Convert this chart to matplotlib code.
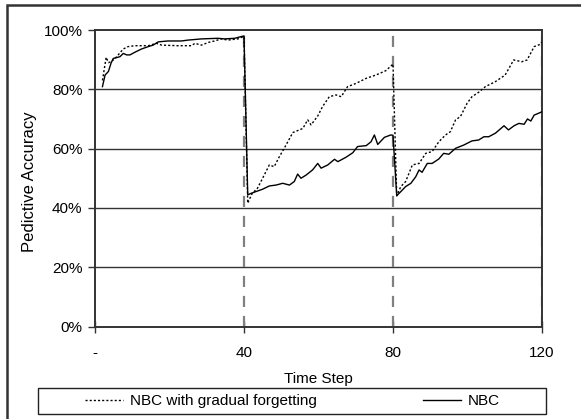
import matplotlib
matplotlib.use("Agg")
import matplotlib.pyplot as plt
from matplotlib.patches import Rectangle
from matplotlib.ticker import FuncFormatter

plt.rcParams['font.family'] = ['Liberation Sans', 'DejaVu Sans']

# NBC (solid line)
nbc_t = [2, 2.7, 3.6, 4.3, 4.9, 5.8, 6.7, 7.6, 8.5, 9.4, 10.7, 12.5, 14.3, 15.6, 17,
         19.6, 23.2, 25, 28.6, 33, 34.8, 37.5, 39.3, 40,
         41, 41.9, 43.2, 45, 46.8, 48.6, 50.4, 52.2, 53.5, 54.4, 55.3, 56.7, 58.4,
         59.8, 60.7, 62.5, 64.3, 65.2, 67.4, 69.2, 70.5, 72.8, 74.1, 75, 75.9, 77.7,
         79.4, 80,
         81, 82.1, 83.4, 84.8, 86.1, 87, 87.8, 89.2, 90.5, 92.3, 93.6, 95, 96.8, 99,
         101.2, 103, 104.4, 105.7, 107.5, 109.8, 111, 112.5, 113.8, 115.2, 116.1,
         117, 117.9, 119.6, 120]
nbc_acc = [80.9, 84.8, 86, 88.8, 90.4, 90.7, 91, 92.1, 91.6, 91.6, 92.5, 93.6, 94.4, 94.9, 96,
           96.3, 96.3, 96.6, 97, 97.2, 97, 97.2, 97.8, 98,
           44.4, 44.9, 45.5, 46.3, 47.4, 47.7, 48.3, 47.7, 48.9, 51.4, 50, 51.1, 52.8,
           55, 53.4, 54.5, 56.4, 55.6, 57.1, 58.6, 60.7, 61, 62.3, 64.6, 61.4, 63.8,
           64.6, 64.5,
           44.1, 45.5, 47.2, 48.3, 50.5, 52.8, 52, 55, 55, 56.5, 58.4, 58.1, 60.1, 61.2,
           62.6, 62.9, 64, 64, 65.2, 67.7, 66.3, 67.7, 68.5, 68.2, 70,
           69.3, 71.3, 72.2, 72.5]

# NBC with gradual forgetting (dotted line)
gf_t = [2, 3, 3.6, 4.3, 5.4, 7.6, 8.9, 10.7, 14.3, 16.5, 17.9, 22.3, 25.9, 26.8, 28.6,
        30.4, 32.1, 33.9, 35.7, 38.4, 39.3, 40,
        41, 42.2, 43.6, 45, 46.8, 48.1, 49.5, 50.8, 53.1, 55.8, 57.1, 58, 59.8, 61.1,
        62.9, 64.7, 66.1, 67.8, 70.1, 72.8, 75.4, 78.1, 80,
        81, 82.1, 83.4, 85.2, 87, 88.8, 90.5, 92.3, 94.1, 95.4, 96.8, 98.1, 99.9,
        101.2, 103, 104.8, 107.5, 110.1, 112.4, 114.6, 116, 117.9, 119.6, 120]
gf_acc = [83, 90.8, 89, 89.3, 90.4, 93.6, 94.4, 94.7, 94.7, 95.5, 94.9, 94.7, 94.7, 95.5, 94.9,
          95.8, 96.3, 97, 96.6, 97, 97.5, 97.8,
          41.6, 44.9, 46.6, 50, 54.5, 53.9, 57.3, 60.1, 65.4, 66.8, 69.7, 68, 71, 74.2,
          77.5, 78.1, 77.5, 80.9, 82, 83.7, 84.8, 86.3, 88.5,
          44.1, 47.2, 48.9, 54.5, 55, 58.4, 59, 62.3, 64.6, 65.7, 69.7, 70.8, 75.3,
          77.5, 79, 80.9, 82.6, 84.8, 89.9, 89.3, 89.9, 94.4, 95.2, 96]

change_points = [40, 80, 120]
x_ticks = [0, 40, 80, 120]
x_tick_labels = ['-', '40', '80', '120']
y_ticks = [0, 20, 40, 60, 80, 100]

W, H = 581, 419
fig = plt.figure(figsize=(W / 100, H / 100), dpi=100)
ax = fig.add_axes([95 / W, 1 - 326.5 / H, 447 / W, 296.5 / H])

# horizontal grid
for yv in y_ticks[1:-1]:
    ax.axhline(yv, color='#333333', lw=1.0, zorder=1)

# concept drift markers
for cp in change_points:
    ax.axvline(cp, color='#808080', lw=1.6, linestyle=(0, (5, 4)), zorder=2)

ax.plot(gf_t, gf_acc, color='black', lw=1.0, linestyle=(0, (1.5, 1.5)),
        label='NBC with gradual forgetting', zorder=3)
ax.plot(nbc_t, nbc_acc, color='black', lw=1.0, label='NBC', zorder=3)

ax.set_xlim(0, 120)
ax.set_ylim(0, 100)
ax.set_xticks(x_ticks)
ax.set_xticklabels(x_tick_labels)
ax.set_yticks(y_ticks)
ax.yaxis.set_major_formatter(FuncFormatter(lambda v, p: '%d%%' % v))
ax.tick_params(axis='y', direction='out', length=5, width=1, color='#333333',
               labelsize=11, pad=4)
ax.tick_params(axis='x', direction='inout', length=8, width=1, color='#333333',
               labelsize=11, pad=10)
for side in ['left', 'bottom', 'top', 'right']:
    ax.spines[side].set_color('#333333')
    ax.spines[side].set_linewidth(1.4)

ax.set_xlabel('Time Step', fontsize=11, labelpad=9)
ax.set_ylabel('Pedictive Accuracy', fontsize=12)
ax.yaxis.set_label_coords(-0.13, 0.487)

# legend, drawn in its own box below the axes
handles, labels = ax.get_legend_handles_labels()
fig.legend(handles, labels, loc='center', bbox_to_anchor=(292.5 / W, 1 - 401 / H),
           ncol=2, frameon=False, fontsize=11, handlelength=2.45,
           handletextpad=0.45, columnspacing=7.0, borderpad=0)
fig.add_artist(Rectangle((38 / W, 1 - 414 / H), 508 / W, 26 / H,
                         transform=fig.transFigure, fill=False,
                         edgecolor='#222222', lw=1.0))

# outer frame of the chart (cut off at right and bottom)
fig.add_artist(Rectangle((7 / W, -0.05), 1.2, 1 - 5 / H + 0.05,
                         transform=fig.transFigure, fill=False,
                         edgecolor='#333333', lw=1.8))

fig.savefig('out.png', dpi=100)
